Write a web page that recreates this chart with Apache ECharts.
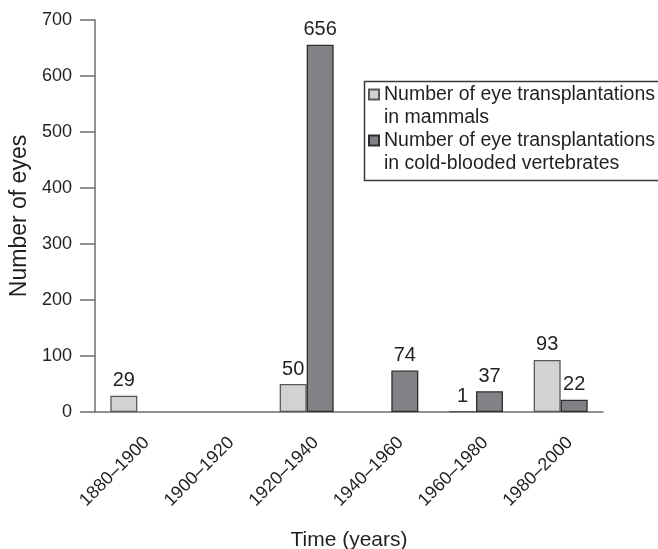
<!DOCTYPE html>
<html>
<head>
<meta charset="utf-8">
<script src="https://cdn.jsdelivr.net/npm/echarts@6/dist/echarts.min.js"></script>
<style>
html, body { margin: 0; padding: 0; background: #fff; }
#myChart { width: 658px; height: 549px; }
</style>
</head>
<body>
<div id="myChart"></div>
<script>
// periods on the x axis
let periods = ["1880–1900", "1900–1920", "1920–1940", "1940–1960", "1960–1980", "1980–2000"];
// eye transplantations per period (null = none recorded)
let mammals = [29, null, 50, null, 1, 93];
let coldBlooded = [null, null, 656, 74, 37, 22];
let seriesNames = [
  "Number of eye transplantations\nin mammals",
  "Number of eye transplantations\nin cold-blooded vertebrates"
];

let textColor = "#231f20";
let axisColor = "#6d6e71";
let font = "Liberation Sans, Arial, Helvetica, sans-serif";

let myChart = echarts.init(document.getElementById("myChart"));

let labelOption = {
  show: true,
  position: "top",
  distance: 5,
  color: textColor,
  fontSize: 20,
  fontFamily: font
};

let option = {
  animation: false,
  grid: { left: 95, right: 55, top: 20, bottom: 137, outerBoundsMode: "none", containLabel: false },
  legend: {
    orient: "vertical",
    left: 368,
    top: 60,
    padding: 0,
    itemGap: -23,
    itemWidth: 10,
    itemHeight: 10,
    icon: "rect",
    // empty first line so the square sits beside the first text line
    formatter: function (name) {
      return " \n" + name;
    },
    textStyle: {
      color: textColor,
      fontSize: 19.5,
      fontFamily: font,
      lineHeight: 23
    },
    data: seriesNames
  },
  // legend frame
  graphic: [
    {
      type: "rect",
      left: 362,
      top: 79,
      shape: { width: 295, height: 99 },
      style: { fill: "none", stroke: "#3a3a3a", lineWidth: 1.5 }
    }
  ],
  xAxis: {
    type: "category",
    data: periods,
    name: "Time (years)",
    nameLocation: "middle",
    nameGap: 118,
    nameTextStyle: { color: textColor, fontSize: 21, fontFamily: font },
    axisLine: { lineStyle: { color: axisColor, width: 1.5 } },
    axisTick: { length: 15, lineStyle: { color: axisColor, width: 1.5 } },
    axisLabel: {
      interval: 0,
      rotate: 45,
      margin: 37,
      padding: [0, -13, 0, 0],
      color: textColor,
      fontSize: 18,
      fontFamily: font
    }
  },
  yAxis: {
    type: "value",
    min: 0,
    max: 700,
    interval: 100,
    name: "Number of eyes",
    nameLocation: "middle",
    nameRotate: 90,
    nameGap: 63,
    nameTextStyle: { color: textColor, fontSize: 23, fontFamily: font },
    axisLine: { show: true, lineStyle: { color: axisColor, width: 1.5 } },
    axisTick: { show: true, length: 15, lineStyle: { color: axisColor, width: 1.5 } },
    axisLabel: { margin: 23, color: textColor, fontSize: 18, fontFamily: font },
    splitLine: { show: false }
  },
  series: [
    {
      name: seriesNames[0],
      type: "bar",
      barWidth: 27,
      barGap: "0%",
      itemStyle: { color: "#d1d2d4", borderColor: "#58595b", borderWidth: 1.3 },
      label: labelOption,
      data: mammals
    },
    {
      name: seriesNames[1],
      type: "bar",
      barWidth: 27,
      itemStyle: { color: "#808285", borderColor: "#2e2e2e", borderWidth: 1.3 },
      label: labelOption,
      data: coldBlooded
    }
  ]
};
myChart.setOption(option);
</script>
</body>
</html>
